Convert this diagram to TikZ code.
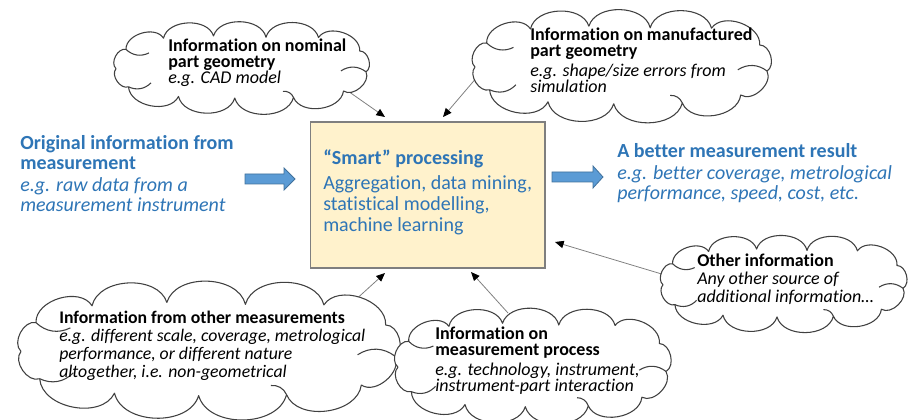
\documentclass[tikz,border=0pt]{standalone}
\usepackage{fontspec}
\setmainfont{Carlito}[Ligatures=NoCommon]
\usetikzlibrary{arrows.meta,calc}
\definecolor{txtblue}{HTML}{2E75B6}
\definecolor{arrowfill}{HTML}{5B9BD5}
\definecolor{arrowline}{HTML}{41719C}
\definecolor{boxfill}{HTML}{FFF2CC}
\definecolor{boxline}{HTML}{7F7F7F}
\definecolor{cloudline}{HTML}{404040}
% cloud: name, cx, cy, inner half width, inner half height
\newcommand\mycloudat[5]{%
  \foreach \qx/\qy [count=\j from 0] in {-1.00/0.05,-0.92/-0.55,-0.62/-0.90,-0.22/-0.97,0.20/-0.93,0.62/-0.92,0.95/-0.50,1.00/0.15,0.82/0.75,0.42/0.95,-0.05/0.97,-0.50/0.92,-0.90/0.62}
    {\coordinate (#1-\j) at ({#2+#4*\qx},{#3+#5*\qy});}
  \coordinate (#1) at (#2,#3);
  \path[cloudbox] (#1-0) \foreach \j in {1,...,12}{ to[bend left=75] (#1-\j) } to[bend left=75] (#1-0);
  \foreach \j in {1,7,9,12}{\draw[cloudinner] (#1-\j) to[bend right=35] ($(#1-\j)!0.2!(#1)$);}
}
\begin{document}
\begin{tikzpicture}[x=0.75pt,y=-0.75pt,
  cloudbox/.style={draw=cloudline, fill=white, line width=0.8pt, line join=round},
  cloudinner/.style={draw=cloudline, line width=0.8pt},
  cloudtxt/.style={anchor=base west, align=left, inner sep=0pt, font=\fontsize{13.5}{13}\selectfont, text=black},
  bluetxt/.style={anchor=base west, align=left, inner sep=0pt, font=\fontsize{15}{15}\selectfont, text=txtblue},
  conn/.style={draw=gray, line width=0.6pt, -{Triangle[length=6.5pt,width=5.5pt,color=black]}},
  blockarrow/.style={fill=arrowfill, draw=arrowline, line width=0.6pt}]
\useasboundingbox (0,0) rectangle (908,420);
% box
\node[draw=boxline, fill=boxfill, line width=1pt, minimum width=176pt, minimum height=109.5pt, inner sep=0pt] (box) at (427.5,195) {};
\node[bluetxt, font=\fontsize{15}{15.8}\selectfont] (boxtxt) at (323,232) {\textbf{“Smart” processing}\\[3pt]Aggregation, data mining,\\statistical modelling,\\machine learning};
% left / right texts
\node[bluetxt] (orig) at (20,212) {\textbf{Original information from}\\\textbf{measurement}\\[1.5pt]\textit{e.g. raw data from a}\\\textit{measurement instrument}};
\node[bluetxt] (result) at (617,200) {\textbf{A better measurement result}\\[2pt]\textit{e.g. better coverage, metrological}\\\textit{performance, speed, cost, etc.}};
% block arrows
\draw[blockarrow] (245,174) -- (284,174) -- (284,168) -- (295,179) -- (284,190) -- (284,184) -- (245,184) -- cycle;
\draw[blockarrow] (552,172) -- (593,172) -- (593,166) -- (603,177) -- (593,188) -- (593,182) -- (552,182) -- cycle;
% connectors (tails start inside the clouds, which are drawn on top)
\coordinate (s1) at (335,82);  \coordinate (e1) at (385,117);
\coordinate (s2) at (478,76);  \coordinate (e2) at (443,117);
\coordinate (s3) at (665,275); \coordinate (e3) at (555,242);
\coordinate (s4) at (352,303); \coordinate (e4) at (385,273);
\coordinate (s5) at (508,313); \coordinate (e5) at (471,272);
\draw[conn] (s1) -- (e1);
\draw[conn] (s2) -- (e2);
\draw[conn] (s3) -- (e3);
\draw[conn] (s4) -- (e4);
\draw[conn] (s5) -- (e5);
% clouds
\mycloudat{c1}{241}{67}{125}{32}
\mycloudat{c2}{621}{65}{146}{40}
\mycloudat{c3}{783}{283}{120}{35}
\mycloudat{c4}{208}{349}{187}{48}
\mycloudat{c5}{532}{365}{134}{43}
% cloud texts
\node[cloudtxt, font=\fontsize{13.5}{12}\selectfont] (t1) at (168,84) {\textbf{Information on nominal}\\\textbf{part geometry}\\\textit{e.g. CAD model}};
\node[cloudtxt, font=\fontsize{13.5}{12.5}\selectfont] (t2) at (530,93) {\textbf{Information on manufactured}\\\textbf{part geometry}\\[2pt]\textit{e.g. shape/size errors from}\\\textit{simulation}};
\node[cloudtxt, font=\fontsize{13.5}{13.5}\selectfont] (t3) at (697,303) {\textbf{Other information}\\\textit{Any other source of}\\\textit{additional information…}};
\node[cloudtxt, font=\fontsize{13.3}{13.7}\selectfont] (t4) at (59,378) {\textbf{Information from other measurements}\\\textit{e.g. different scale, coverage, metrological}\\\textit{performance, or different nature}\\\textit{altogether, i.e. non-geometrical}};
\node[cloudtxt, font=\fontsize{13.5}{12.5}\selectfont] (t5) at (435,392) {\textbf{Information on}\\\textbf{measurement process}\\[2pt]\textit{e.g. technology, instrument,}\\\textit{instrument-part interaction}};
\end{tikzpicture}
\end{document}
